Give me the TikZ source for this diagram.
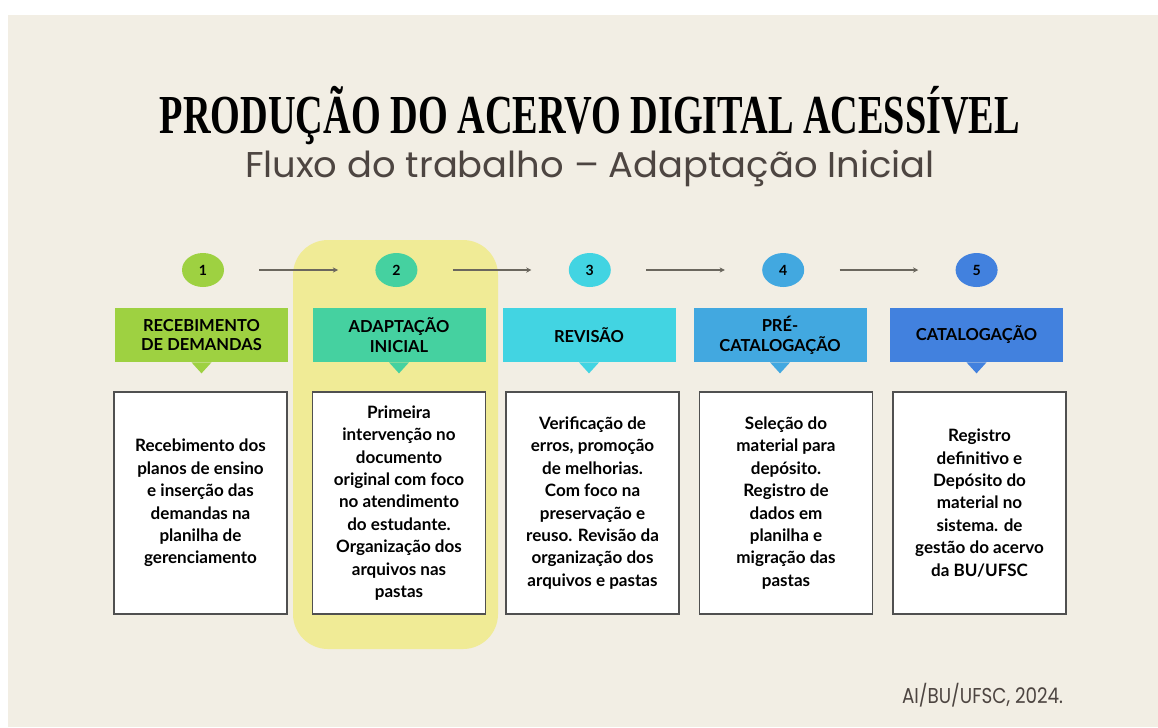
\documentclass[tikz,border=0pt]{standalone}
\usepackage{fontspec}
\setmainfont{Lato}
\newfontfamily\titlefont{Liberation Serif}
\newfontfamily\handfont{Poppins}
\usetikzlibrary{shapes.geometric,arrows.meta}

\definecolor{bgbeige}{HTML}{F2EEE4}
\definecolor{hiyellow}{HTML}{F0EB96}
\definecolor{cone}{HTML}{9ED141}
\definecolor{ctwo}{HTML}{45D1A0}
\definecolor{cthree}{HTML}{42D4E2}
\definecolor{cfour}{HTML}{42A8E0}
\definecolor{cfive}{HTML}{4281DE}
\definecolor{boxline}{HTML}{505050}
\definecolor{flowgray}{HTML}{6B675E}
\definecolor{handgray}{HTML}{4D4541}

\begin{document}
\begin{tikzpicture}[
  stepdot/.style={ellipse, fill=#1, minimum width=0.84cm, minimum height=0.68cm, inner sep=0pt, font=\bfseries\fontsize{8}{9}\selectfont},
  hdr/.style={rectangle, fill=#1, minimum width=3.46cm, minimum height=1.08cm, inner sep=2pt, align=center, font=\bfseries\fontsize{9.4}{11.2}\selectfont},
  descbox/.style={rectangle, draw=boxline, fill=white, line width=0.7pt, minimum width=3.46cm, minimum height=4.44cm, inner sep=2pt, align=center, font=\bfseries\fontsize{9.7}{12.75}\selectfont},
  flow/.style={-{Stealth[length=3pt,width=3pt]}, draw=flowgray, line width=0.8pt, shorten <=0.7cm, shorten >=0.74cm},
  node distance=3.868cm
]
\useasboundingbox (0,0) rectangle (23.16,-14.54);
\fill[bgbeige] (0.16,-0.30) rectangle (23.16,-14.54);

% highlight of the current step
\node[fill=hiyellow, rounded corners=0.7cm, minimum width=4.1cm, minimum height=8.18cm, inner sep=0pt] (hilite) at (7.91,-8.89) {};

\node[inner sep=0pt] (title) at (11.8,-2.30) {\titlefont\bfseries\resizebox{17.2cm}{0.72cm}{\raisebox{0pt}[\fontcharht\font`P][0pt]{PRODUÇÃO DO ACERVO DIGITAL ACESSÍVEL}}};
\node[inner sep=0pt, text=handgray] (subtitle) at (11.8,-3.29) {\handfont\resizebox{13.8cm}{0.5cm}{\raisebox{0pt}[\fontcharht\font`F][0pt]{Fluxo do trabalho – Adaptação Inicial}}};

\node[stepdot=cone] (n1) at (4.06,-5.40) {1};
\node[stepdot=ctwo, right of=n1] (n2) {2};
\node[stepdot=cthree, right of=n2] (n3) {3};
\node[stepdot=cfour, right of=n3] (n4) {4};
\node[stepdot=cfive, right of=n4] (n5) {5};

\node[hdr=cone, below of=n1, node distance=1.30cm, xshift=-0.03cm] (h1) {RECEBIMENTO\\DE DEMANDAS};
\node[hdr=ctwo, right of=h1, node distance=3.95cm] (h2) {ADAPTAÇÃO\\INICIAL};
\node[hdr=cthree, right of=h2, node distance=3.80cm] (h3) {REVISÃO};
\node[hdr=cfour, right of=h3, node distance=3.82cm] (h4) {PRÉ-\\CATALOGAÇÃO};
\node[hdr=cfive, right of=h4, node distance=3.93cm] (h5) {CATALOGAÇÃO};

\foreach \i/\c in {1/cone,2/ctwo,3/cthree,4/cfour,5/cfive}
  \fill[\c] ([xshift=-0.2cm]h\i.south) -- ([xshift=0.2cm]h\i.south) -- ([yshift=-0.22cm]h\i.south) -- cycle;

\node[descbox, below of=h1, node distance=3.36cm, xshift=-0.02cm] (d1) {Recebimento dos\\planos de ensino\\e inserção das\\demandas na\\planilha de\\gerenciamento};
\node[descbox, right of=d1, node distance=3.97cm] (d2) {Primeira\\intervenção no\\documento\\original com foco\\no atendimento\\do estudante.\\Organização dos\\arquivos nas\\pastas};
\node[descbox, right of=d2, node distance=3.87cm] (d3) {Verificação de\\erros, promoção\\de melhorias.\\Com foco na\\preservação e\\reuso. Revisão da\\organização dos\\arquivos e pastas};
\node[descbox, right of=d3, node distance=3.87cm] (d4) {Seleção do\\material para\\depósito.\\Registro de\\dados em\\planilha e\\migração das\\pastas};
\node[descbox, right of=d4, node distance=3.87cm] (d5) {Registro\\definitivo e\\Depósito do\\material no\\sistema. de\\gestão do acervo\\da BU/UFSC};

\node[inner sep=0pt, text=handgray] (credit) at (19.65,-13.91) {\handfont\resizebox{3.22cm}{0.3cm}{\raisebox{0pt}[\fontcharht\font`A][0pt]{AI/BU/UFSC, 2024.}}};

\draw[flow] (n1) -- (n2);
\draw[flow] (n2) -- (n3);
\draw[flow] (n3) -- (n4);
\draw[flow] (n4) -- (n5);
\end{tikzpicture}
\end{document}
